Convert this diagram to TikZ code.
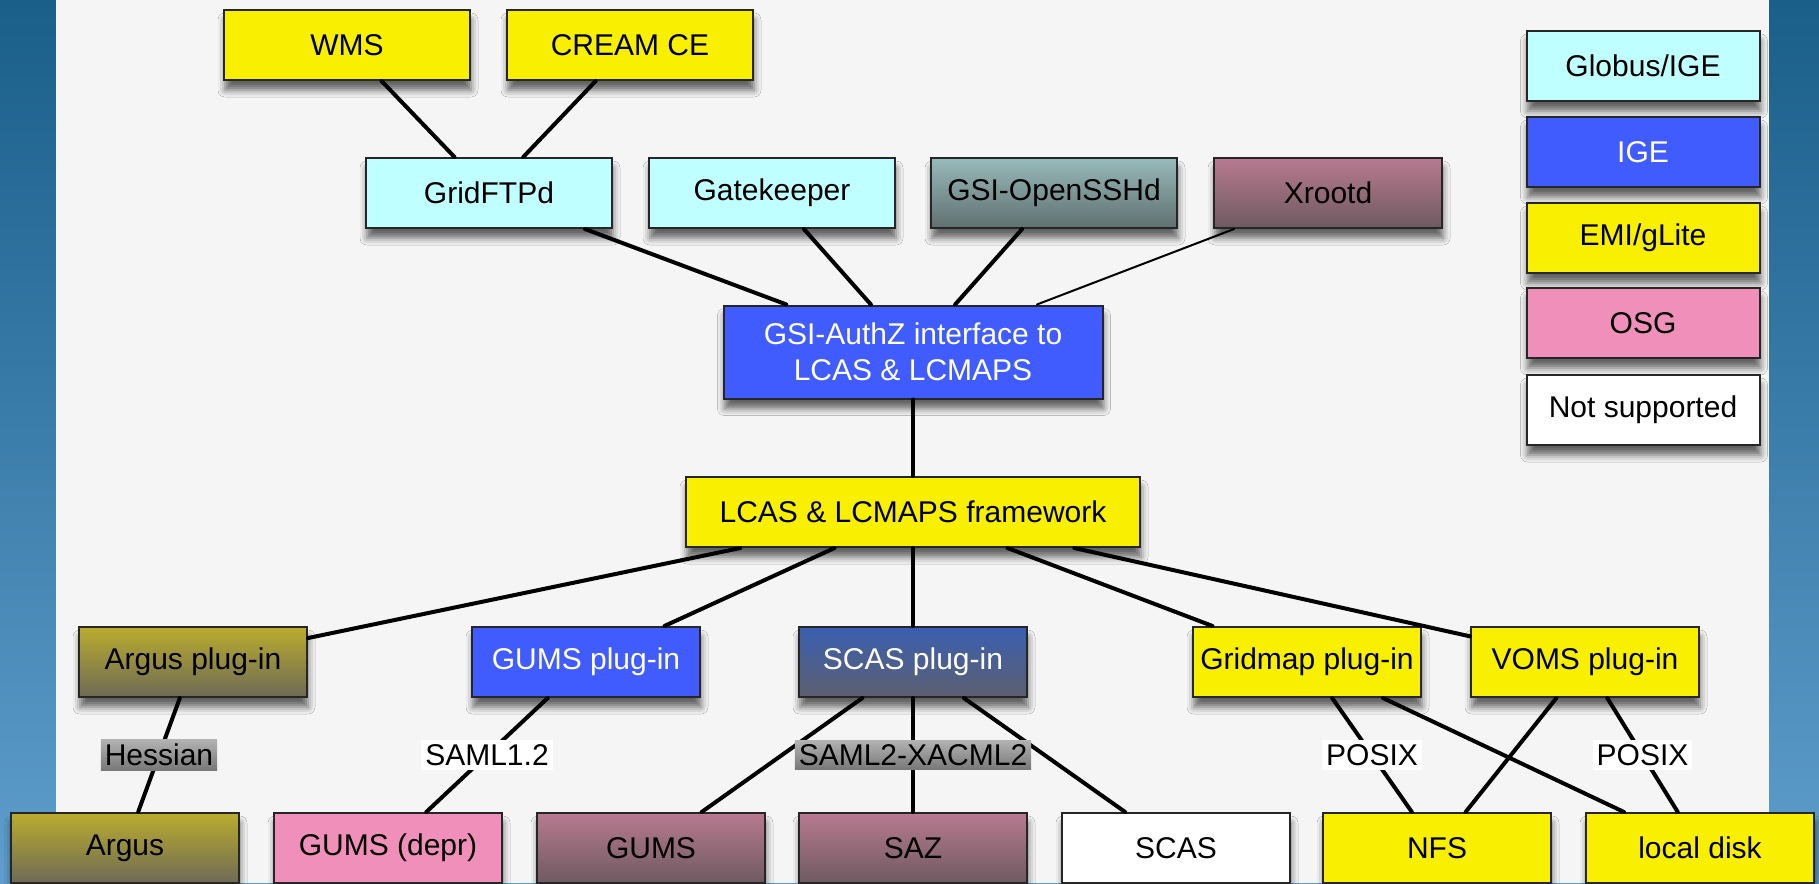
\documentclass[tikz,border=0pt]{standalone}
\usepackage{fontspec}
\setmainfont{Liberation Sans}
\usetikzlibrary{shadows.blur}

\definecolor{bandtop}{RGB}{26,94,138}
\definecolor{bandbot}{RGB}{95,158,204}
\definecolor{paper}{RGB}{245,245,245}
\definecolor{emiyellow}{RGB}{248,240,0}
\definecolor{globuscyan}{RGB}{192,255,255}
\definecolor{igeblue}{RGB}{64,92,255}
\definecolor{osgpink}{RGB}{240,144,186}
\definecolor{olivetop}{RGB}{186,172,46}
\definecolor{olivebot}{RGB}{110,106,85}
\definecolor{slatetop}{RGB}{58,95,176}
\definecolor{slatebot}{RGB}{92,95,112}
\definecolor{mauvetop}{RGB}{184,122,144}
\definecolor{mauvebot}{RGB}{110,90,96}
\definecolor{tealtop}{RGB}{152,186,186}
\definecolor{tealbot}{RGB}{96,112,112}
\definecolor{lbltop}{RGB}{178,178,178}
\definecolor{lblbot}{RGB}{120,120,120}

\begin{document}
\begin{tikzpicture}
[%%%%%%%%%%%%%%%%%%%%%%%%%%%%%%
x=0.5pt,y=-0.5pt,
font=\fontsize{15}{18}\selectfont,
box/.style={rectangle,draw=black!85,line width=1pt,minimum width=114pt,minimum height=35pt,inner sep=0pt,
  blur shadow={shadow xshift=0.5pt,shadow yshift=-5pt,shadow blur radius=3.5pt,shadow opacity=60}},
topbox/.style={box,minimum width=123pt},
globus/.style={fill=globuscyan},
ige/.style={fill=igeblue,text=white},
emi/.style={fill=emiyellow},
osg/.style={fill=osgpink},
nosup/.style={fill=white},
olive/.style={top color=olivetop,bottom color=olivebot},
slate/.style={top color=slatetop,bottom color=slatebot,text=white},
mauve/.style={top color=mauvetop,bottom color=mauvebot},
teal/.style={top color=tealtop,bottom color=tealbot},
link/.style={line width=2pt,line cap=round},
lbl/.style={fill=white,inner sep=2pt},
greylbl/.style={top color=lbltop,bottom color=lblbot,inner sep=2pt},
]%%%%%%%%%%%%%%%%%%%%%%%%%%%%%%

\useasboundingbox (0,0) rectangle (1819,883);
\fill[top color=bandtop,bottom color=bandbot] (0,0) rectangle (1819,883);
\fill[paper] (56,0) rectangle (1769,883);

% services
\node[topbox,emi] (wms) at (347,45){WMS};
\node[topbox,emi] (cream) at (630,45){CREAM CE};
\node[topbox,globus] (ftp) at (489,193){GridFTPd};
\node[topbox,globus] (gk) at (772,193){Gatekeeper};
\node[topbox,teal] (ssh) at (1054,193){GSI-OpenSSHd};
\node[box,mauve] (xrd) at (1328,193){Xrootd};

% core
\node[box,ige,minimum width=189.5pt,minimum height=46.5pt,align=center] (authz) at (913,352){GSI-AuthZ interface to\\LCAS \& LCMAPS};
\node[box,emi,minimum width=227pt] (fw) at (913,512){LCAS \& LCMAPS framework};

% plug-ins
\node[box,olive] (argpl) at (193,662){Argus plug-in};
\node[box,ige] (gumspl) at (586,662){GUMS plug-in};
\node[box,slate] (scaspl) at (913,662){SCAS plug-in};
\node[box,emi] (gmpl) at (1307,662){Gridmap plug-in};
\node[box,emi] (vomspl) at (1585,662){VOMS plug-in};

% back ends
\node[box,olive] (argus) at (125,848){Argus};
\node[box,osg] (gumsd) at (388,848){GUMS (depr)};
\node[box,mauve] (gums) at (651,848){GUMS};
\node[box,mauve] (saz) at (913,848){SAZ};
\node[box,nosup] (scas) at (1176,848){SCAS};
\node[box,emi] (nfs) at (1437,848){NFS};
\node[box,emi] (disk) at (1700,848){local disk};

% legend
\node[box,globus,minimum width=116.5pt] (leg1) at (1643,66){Globus/IGE};
\node[box,ige,minimum width=116.5pt] (leg2) at (1643,152){IGE};
\node[box,emi,minimum width=116.5pt] (leg3) at (1643,238){EMI/gLite};
\node[box,osg,minimum width=116.5pt] (leg4) at (1643,323){OSG};
\node[box,nosup,minimum width=116.5pt] (leg5) at (1643,410){Not supported};

\foreach \a/\b in {wms/ftp,cream/ftp,ftp/authz,gk/authz,ssh/authz,authz/fw,
  fw/argpl,fw/gumspl,fw/scaspl,fw/gmpl,fw/vomspl,
  scaspl/gums,scaspl/scas,gmpl/disk,vomspl/nfs}
  \draw[link] (\a) -- (\b);
\draw[link,line width=1pt] (xrd) -- (authz);

\draw[link] (argpl) -- node[midway,greylbl] (hess) {Hessian} (argus);
\draw[link] (gumspl) -- node[midway,lbl] (saml1) {SAML1.2} (gumsd);
\draw[link] (scaspl) -- node[midway,greylbl] (saml2) {SAML2-XACML2} (saz);
\draw[link] (gmpl) -- node[midway,lbl] (posix1) {POSIX} (nfs);
\draw[link] (vomspl) -- node[midway,lbl] (posix2) {POSIX} (disk);
\end{tikzpicture}
\end{document}
